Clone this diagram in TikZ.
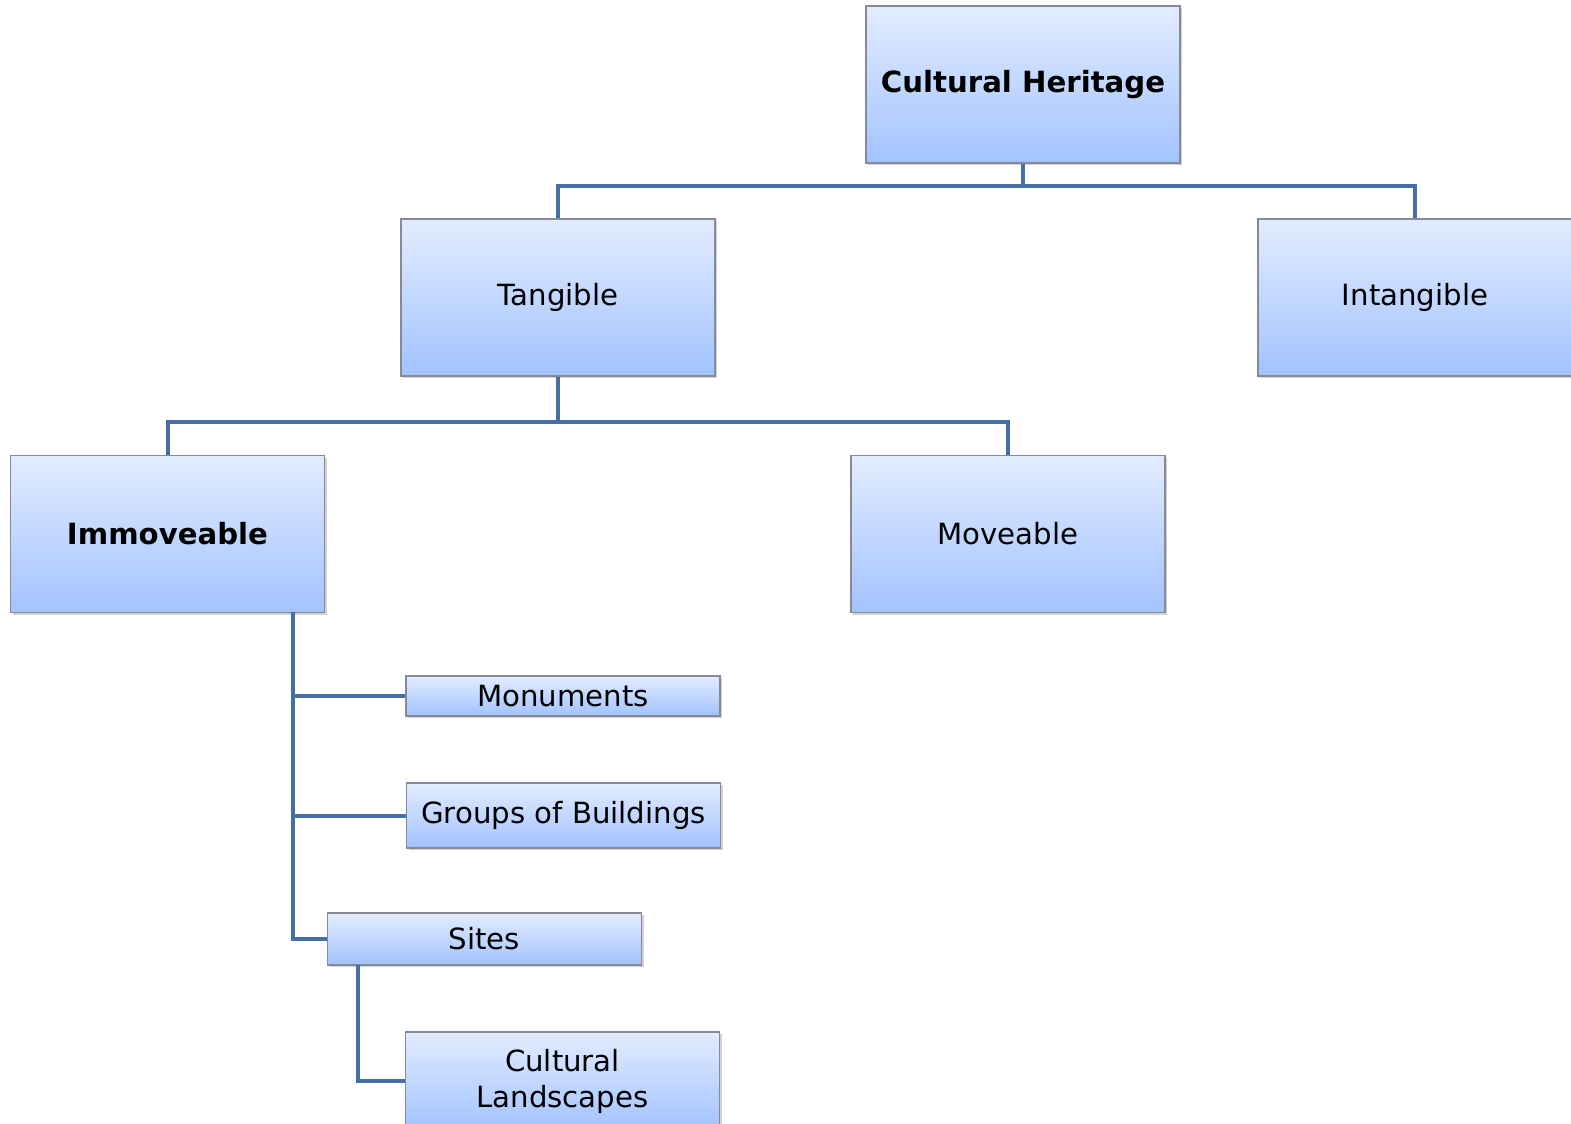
\documentclass[tikz,border=0pt]{standalone}
\usepackage{fontspec}
\setmainfont{DejaVu Sans}
\usepackage{tikz}
\usetikzlibrary{shadows}
\definecolor{linkblue}{RGB}{70,110,165}
\definecolor{boxtop}{RGB}{226,236,255}
\definecolor{boxbottom}{RGB}{162,195,255}
\definecolor{boxedge}{RGB}{135,138,150}

\begin{document}
\begin{tikzpicture}[x=0.5pt,y=-0.5pt,
    cbox/.style={draw=boxedge,line width=0.6pt,top color=boxtop,bottom color=boxbottom,
        minimum width=157pt,inner sep=0pt,align=center,
        font=\fontsize{14.6}{18}\selectfont,
        drop shadow={shadow xshift=1.2pt,shadow yshift=-1.2pt,opacity=0.35}},
    bigbox/.style={cbox,minimum height=78.5pt},
    link/.style={linkblue,line width=2pt}]
                \clip (0,0) rectangle (1571,1124);
                \fill[white] (0,0) rectangle (1571,1124);
                % Top levels
                \node[bigbox] (ch) at (1023,84.5) {\textbf{Cultural Heritage}};
                \node[bigbox] (tan) at (558,297.5) {Tangible};
                \node[bigbox] (intan) at (1415,297.5) {Intangible};
                \node[bigbox] (imm) at (167.5,534) {\textbf{Immoveable}};
                \node[bigbox] (mov) at (1008,534) {Moveable};
                % Immoveable kinds
                \node[cbox,minimum height=20pt] (mon) at (563,696) {Monuments};
                \node[cbox,minimum height=32.5pt] (grp) at (563.5,815.5) {Groups of Buildings};
                \node[cbox,minimum height=26pt] (sit) at (484.5,939) {Sites};
                \node[cbox,minimum height=49pt] (cl) at (562.5,1081) {Cultural\\Landscapes};
                % Joints
                \coordinate (i0) at (293,612);
                \coordinate (s0) at (358,965);
                % Connectors
                \draw[link] (ch.south) -- ++(0,22) coordinate (j1);
                \draw[link] (tan.north) |- (j1) -| (intan.north);
                \draw[link] (tan.south) -- ++(0,45) coordinate (j2);
                \draw[link] (imm.north) |- (j2) -| (mov.north);
                \draw[link] (i0) |- (mon.west);
                \draw[link] (i0) |- (grp.west);
                \draw[link] (i0) |- (sit.west);
                \draw[link] (s0) |- (cl.west);
\end{tikzpicture}
\end{document}
